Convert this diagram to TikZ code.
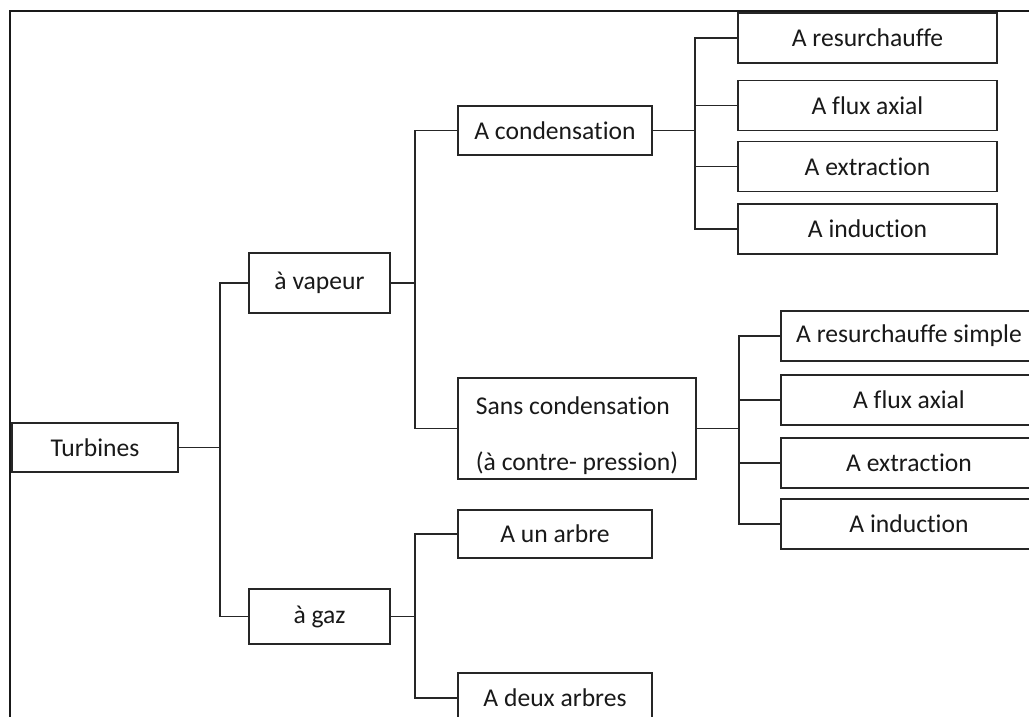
\documentclass[tikz,border=0pt]{standalone}
\usepackage{fontspec}
\setmainfont{Carlito}[Ligatures=NoCommon]
\begin{document}
\begin{tikzpicture}[x=0.5pt,y=-0.5pt,
  box/.style={draw=black!85, line width=0.85pt, inner sep=0pt, fill=white,
    font=\fontsize{12.8}{15}\selectfont, text=black!90},
  rbox/.style={box, minimum width=129.5pt, minimum height=25pt},
  sbox/.style={box, minimum width=128pt, minimum height=25pt},
  link/.style={draw=black!85, line width=0.85pt},
  frame/.style={draw=black!90, line width=1.3pt}]
\useasboundingbox (0,0) rectangle (1029,717);
\clip (0,0) rectangle (1029,717);

% page frame
\draw[frame] (10,717) -- (10,11) -- (1029,11);

% root and first level
\node[box, minimum width=83pt, minimum height=24.5pt] (turb) at (95,447.5) {Turbines};
\node[box, minimum width=70.5pt, minimum height=30pt] (vap) at (319.5,283) {à vapeur};
\node[box, minimum width=70.5pt, minimum height=27.5pt] (gaz) at (319.5,616.5) {à gaz};

% second level
\node[box, minimum width=97pt, minimum height=24.5pt] (cond) at (555,130.5) {A condensation};
\node[box, minimum width=119pt, minimum height=50.5pt, align=left] (sans) at (577,428.5)
  {\rule{0pt}{15.6pt}Sans condensation\\[13pt](à contre- pression)};
\node[box, minimum width=97pt, minimum height=24pt] (un) at (555,534) {A un arbre};
\node[box, minimum width=97pt, minimum height=25pt] (deux) at (555,698) {A deux arbres};

% third level, condensing
\node[rbox] (cres) at (867.5,38) {A resurchauffe};
\node[rbox] (cflux) at (867.5,105.5) {A flux axial};
\node[rbox] (cext) at (867.5,166.5) {A extraction};
\node[rbox] (cind) at (867.5,229) {A induction};

% third level, back-pressure
\node[sbox] (sres) at (909,336) {A resurchauffe simple};
\node[sbox] (sflux) at (909,400) {A flux axial};
\node[sbox] (sext) at (909,463) {A extraction};
\node[sbox] (sind) at (909,524) {A induction};

% bus lines
\coordinate (b0) at (220,449);
\coordinate (b1) at (415,0);
\coordinate (b2) at (695,0);
\coordinate (b3) at (739,0);

\draw[link] (turb.east) -- (turb.east -| b0);
\draw[link] (vap.west) -- (vap.west -| b0) -- (gaz.west -| b0) -- (gaz.west);

\draw[link] (vap.east) -- (vap.east -| b1);
\draw[link] (cond.west) -- (cond.west -| b1) -- (sans.west -| b1) -- (sans.west);
\draw[link] (gaz.east) -- (gaz.east -| b1);
\draw[link] (un.west) -- (un.west -| b1) -- (deux.west -| b1) -- (deux.west);

\draw[link] (cond.east) -- (cond.east -| b2);
\draw[link] (cres.west) -- (cres.west -| b2) -- (cind.west -| b2) -- (cind.west);
\draw[link] (cflux.west) -- (cflux.west -| b2);
\draw[link] (cext.west) -- (cext.west -| b2);

\draw[link] (sans.east) -- (sans.east -| b3);
\draw[link] (sres.west) -- (sres.west -| b3) -- (sind.west -| b3) -- (sind.west);
\draw[link] (sflux.west) -- (sflux.west -| b3);
\draw[link] (sext.west) -- (sext.west -| b3);
\end{tikzpicture}
\end{document}
